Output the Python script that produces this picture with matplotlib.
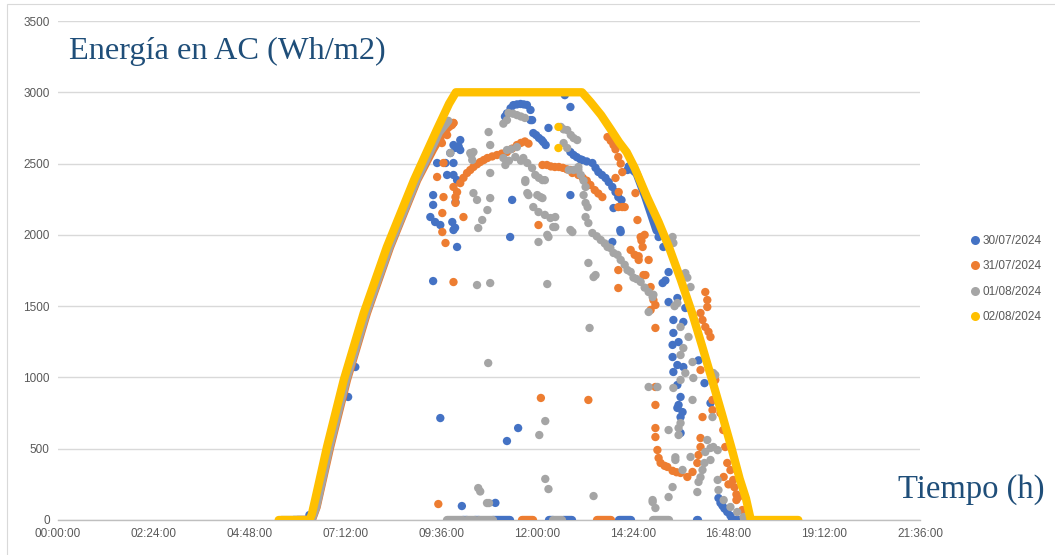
import matplotlib
matplotlib.use("Agg")
import matplotlib.pyplot as plt
from matplotlib.lines import Line2D
from matplotlib.patches import Rectangle

# ---------------- data (time in hours, energy in Wh/m2) ----------------
labels = ["30/07/2024", "31/07/2024", "01/08/2024", "02/08/2024"]
colors = ["#4472C4", "#ED7D31", "#A5A5A5", "#FFC000"]
x_tick_hours = [0, 2.4, 4.8, 7.2, 9.6, 12.0, 14.4, 16.8, 19.2, 21.6]
x_tick_labels = ["00:00:00", "02:24:00", "04:48:00", "07:12:00", "09:36:00",
                 "12:00:00", "14:24:00", "16:48:00", "19:12:00", "21:36:00"]
y_ticks = [0, 500, 1000, 1500, 2000, 2500, 3000, 3500]

# dense (continuous-looking) stretches of each day
blue_band_t = [5.90, 6.33, 6.45, 6.78, 7.20, 7.70, 8.28, 8.96, 9.35, 9.55]
blue_band_v = [0, 0, 91, 512, 982, 1451, 1914, 2384, 2600, 2700]
blue_band2_t = [14.30, 14.50, 14.72, 15.00]
blue_band2_v = [2480, 2430, 2265, 2030]

orange_band_t = [6.00, 6.36, 6.48, 6.82, 7.24, 7.74, 8.32, 9.00, 9.40, 9.65, 9.91]
orange_band_v = [0, 0, 91, 512, 982, 1451, 1914, 2384, 2600, 2720, 2785]

gray_band_t = [5.60, 6.35, 6.47, 6.80, 7.22, 7.72, 8.30, 8.98, 9.30, 9.55, 9.78]
gray_band_v = [0, 0, 91, 512, 982, 1451, 1914, 2384, 2570, 2720, 2800]

yellow_band_t = [5.53, 6.30, 6.36, 6.45, 6.74, 7.16, 7.66, 8.24, 8.92, 9.49, 9.80,
                 9.97, 13.13, 13.35, 13.61, 13.85, 14.06, 14.25, 14.45, 14.76,
                 15.05, 15.31, 15.60, 15.89, 16.14, 16.39, 16.63, 16.87, 17.08,
                 17.24, 17.36, 18.55]
yellow_band_v = [0, 0, 40, 150, 512, 982, 1451, 1914, 2384, 2735, 2920,
                 3000, 3000, 2930, 2840, 2740, 2650, 2580, 2470, 2265,
                 2090, 1914, 1690, 1451, 1220, 982, 750, 512, 290,
                 150, 0, 0]

# stretches at zero (start hour, end hour)
blue_zero = [(10.15, 10.25), (10.45, 10.55), (10.90, 11.33), (12.30, 12.40),
             (12.65, 12.89), (14.05, 14.35), (16.02, 16.03), (16.90, 17.40)]
orange_zero = [(11.62, 11.90), (13.50, 13.85), (17.20, 17.40)]
gray_zero = [(9.75, 10.15), (10.25, 10.45), (10.55, 10.90), (12.40, 12.62),
             (14.92, 15.30), (17.20, 17.40)]

# scattered readings
blue_t = [6.30, 7.27, 7.45,
          9.83, 9.91, 9.96, 10.04, 10.08, 10.08, 9.50, 9.71, 9.91, 9.75, 9.91,
          10.00, 9.40, 9.40, 9.96, 9.33, 9.45, 9.58, 9.88, 9.91, 9.95, 10.00,
          9.40, 9.58, 10.12, 10.96,
          11.38, 11.33, 11.25, 11.53,
          11.20, 11.25, 11.34, 11.41, 11.50, 11.59, 11.67, 11.75, 11.84, 11.88, 11.84,
          11.91, 11.98, 12.05, 12.12, 12.16, 12.22, 12.29, 12.84, 12.70,
          12.84, 12.92, 13.00, 13.09, 13.14, 13.25, 13.39, 13.47, 13.54, 13.63,
          13.72, 13.80, 13.89, 13.97, 14.04, 14.12,
          12.84, 13.92, 14.09, 13.89, 14.27, 14.10,
          15.05, 15.17, 15.30, 15.15, 15.22, 15.30, 15.52, 15.72, 15.42, 15.67,
          15.42, 15.40, 15.55, 15.40, 15.52, 15.67, 15.42, 15.52, 15.60, 15.52,
          15.65, 15.60, 15.60, 15.55,
          16.05, 16.20, 16.35,
          16.55, 16.60, 16.65, 16.70, 16.77, 16.85]
blue_v = [35, 863, 1073,
          2574, 2630, 2610, 2619, 2665, 2595, 2504, 2504, 2504, 2420, 2420,
          2384, 2279, 2210, 2230, 2125, 2090, 2069, 2090, 2034, 2050, 1915,
          1676, 715, 98, 120,
          2245, 1985, 554, 645,
          2830, 2852, 2888, 2910, 2915, 2918, 2915, 2911, 2876, 2805, 2805,
          2714, 2700, 2680, 2665, 2651, 2630, 2750, 2897, 2980,
          2581, 2560, 2545, 2530, 2525, 2515, 2504, 2470, 2441, 2420,
          2399, 2370, 2336, 2300, 2265, 2244,
          2279, 2188, 2034, 1950, 2455, 2020,
          1985, 1915, 1739, 1662, 1680, 1529, 1557, 1487, 1403, 1389,
          1312, 1228, 1248, 1143, 1087, 1073, 1038, 947, 863, 786,
          757, 610, 722, 807,
          1120, 960, 820,
          154, 120, 100, 80, 56, 30]

orange_t = [9.91, 9.87, 9.75, 9.62, 9.58, 9.66, 9.50, 9.66, 9.63, 9.63, 9.71,
            10.16, 9.91, 9.53,
            9.91, 9.96, 9.96, 10.00, 10.08, 10.16, 10.25, 10.33, 10.41, 10.50,
            10.58, 10.67, 10.76, 10.88, 11.00, 11.12, 11.25, 11.38, 11.50,
            11.60, 11.70, 11.79,
            12.14, 12.25, 12.35, 12.45, 12.55, 12.65, 12.75, 12.84, 12.89,
            13.04, 13.15, 13.25, 13.34, 13.45, 13.54, 13.64,
            12.04, 12.10, 13.29,
            13.77, 13.85, 13.92, 13.97, 14.04, 14.10, 14.14, 13.97, 14.05, 14.14,
            14.20, 14.04,
            14.47, 14.52, 14.60, 14.65, 14.55, 14.80, 14.04, 14.04, 14.72, 14.92,
            14.97, 14.85, 14.97, 14.35, 14.45, 14.55, 14.67, 14.85, 14.62, 14.70,
            14.97, 14.97, 14.97, 14.97, 15.02, 15.05, 15.10, 15.20, 15.27, 15.40,
            15.50, 15.60, 15.77, 15.90, 16.02, 16.05, 16.10, 16.10, 16.15, 16.40,
            16.40, 16.47,
            16.22, 16.27, 16.27, 16.10, 16.15, 16.22, 16.30, 16.35, 16.10,
            16.60, 16.67, 16.72, 16.77, 16.85, 16.92, 16.95, 17.00, 17.05, 17.15,
            16.68, 16.80, 17.00]
orange_v = [2785, 2770, 2700, 2644, 2665, 2504, 2406, 2265, 2153, 2020, 1943,
            2125, 1669, 112,
            2336, 2265, 2224, 2300, 2363, 2400, 2434, 2455, 2476, 2495,
            2511, 2525, 2539, 2550, 2560, 2570, 2581, 2605, 2630,
            2645, 2655, 2640,
            2490, 2490, 2480, 2476, 2476, 2470, 2460, 2455, 2434,
            2420, 2400, 2380, 2350, 2314, 2290, 2265,
            2069, 856, 842,
            2686, 2660, 2630, 2600, 2546, 2500, 2440, 2399, 2300, 2195,
            2195, 2195,
            2293, 2104, 1985, 1915, 1824, 1824, 1753, 1627, 1718, 1543,
            1508, 1473, 1347, 1894, 1860, 1850, 1718, 1634, 1960, 2000,
            933, 807, 645, 582, 491, 435, 400, 380, 372, 345,
            335, 330, 302, 337, 400, 456, 512, 575, 722, 771,
            842, 982,
            1599, 1543, 1494, 1452, 1403, 1354, 1320, 1284, 1052,
            750, 631, 512, 400, 350, 281, 230, 180, 161, 70,
            302, 250, 140]

gray_t = [9.83,
          10.33, 10.38, 10.79, 10.83, 10.83, 10.41, 10.50, 10.83, 10.76, 10.63,
          10.53, 10.50, 10.83, 10.41, 10.36,
          10.53, 10.58, 10.75, 10.80, 10.78,
          11.16, 11.25, 11.29, 11.40, 11.50, 11.60, 11.70,
          11.25, 11.35, 11.50, 11.21, 11.16, 11.30,
          11.46, 11.60, 11.66, 11.76, 11.88, 11.96, 12.05, 12.20, 11.71, 11.79,
          11.71, 11.76, 12.01, 12.09, 12.14, 12.14, 11.91, 12.04, 12.20, 12.34,
          12.46, 12.41, 12.46, 12.29, 12.26, 12.04, 12.26, 12.21, 12.06, 12.21,
          12.29,
          12.60, 12.67, 12.76, 12.85, 12.92, 13.01, 12.67, 12.76, 12.80, 12.92,
          13.04, 13.04, 13.10, 13.17, 13.22, 13.17, 13.22, 13.27, 13.22, 13.29,
          12.84, 12.89,
          13.39, 13.50, 13.60, 13.70, 13.77, 13.84, 13.92, 14.02, 14.10, 14.20,
          14.27, 14.35, 14.42, 14.50, 14.60, 14.70, 14.80, 14.90, 14.92, 13.29,
          13.42, 13.47, 13.32, 13.42,
          14.80, 14.80, 15.02, 14.90,
          15.40, 15.42, 15.72, 15.77, 15.85, 15.52, 15.45, 15.60, 15.80, 15.67,
          15.60, 15.90, 15.72, 15.60, 15.92, 16.47, 15.42, 15.90, 15.60, 15.55,
          15.55, 15.30,
          16.22, 16.35, 16.53, 16.35, 16.15, 16.05, 16.02, 15.85, 15.40, 15.30,
          14.90, 14.97, 16.53, 16.55, 16.68, 16.85, 17.02, 17.18, 16.40, 16.42,
          16.42, 16.27, 15.47, 15.65, 15.47, 16.10, 16.20]
gray_v = [2574,
          2574, 2525, 2721, 2630, 2434, 2293, 2245, 2258, 2174, 2104,
          2048, 1648, 1662, 2581, 2560,
          224, 200, 119, 119, 1101,
          2780, 2805, 2855, 2850, 2840, 2830, 2820,
          2595, 2600, 2616, 2490, 2539, 2520,
          2546, 2520, 2539, 2504, 2469, 2420, 2400, 2384, 2384, 2279,
          2371, 2293, 2279, 2265, 2258, 2384, 2195, 2160, 2140, 2118,
          2125, 2055, 2055, 1985, 2000, 1950, 1655, 694, 596, 288,
          217,
          2757, 2740, 2735, 2700, 2679, 2665, 2644, 2609, 2455, 2455,
          2455, 2476, 2420, 2380, 2336, 2279, 2224, 2195, 2125, 2083,
          2034, 2020,
          2013, 1990, 1964, 1940, 1915, 1908, 1873, 1860, 1824, 1790,
          1753, 1740, 1700, 1690, 1670, 1630, 1599, 1564, 1580, 1803,
          1704, 1718, 1347, 168,
          1459, 933, 933, 126,
          1985, 1943, 1732, 1700, 1634, 1522, 1500, 1354, 1284, 1206,
          1157, 1108, 1031, 982, 996, 1017, 926, 842, 680, 645,
          596, 631,
          477, 505, 490, 421, 351, 267, 196, 442, 231, 161,
          140, 84, 281, 210, 140, 91, 56, 21, 722, 1031,
          512, 561, 421, 351, 440, 300, 400]

yellow_t = [12.54, 12.54]
yellow_v = [2757, 2609]

# ---------------- figure ----------------
W, H = 1055, 555
fig = plt.figure(figsize=(W / 100, H / 100), dpi=100)
fig.patch.set_facecolor("white")
fig.add_artist(Rectangle((7 / W, -0.1), 1.2, (H - 4) / H + 0.1,
                         transform=fig.transFigure, fill=False,
                         edgecolor="#D9D9D9", linewidth=0.8))

ax = fig.add_axes([58 / W, (H - 520) / H, (920 - 58) / W, (520 - 21) / H])
ax.set_xlim(0, 21.6)
ax.set_ylim(0, 3500)

lw = 6.0   # pt, approx marker diameter
ms = 36    # scatter area

def draw(series_bands, zeros, t, v, color, z):
    for bt, bv in series_bands:
        ax.plot(bt, bv, color=color, lw=lw, solid_capstyle="round",
                solid_joinstyle="round", zorder=z)
    for a, b in zeros:
        ax.plot([a, b], [0, 0], color=color, lw=lw, solid_capstyle="round",
                zorder=z)
    ax.scatter(t, v, s=ms, color=color, edgecolors="none", zorder=z)

draw([(blue_band_t, blue_band_v), (blue_band2_t, blue_band2_v)],
     blue_zero, blue_t, blue_v, colors[0], 3)
draw([(orange_band_t, orange_band_v)], orange_zero, orange_t, orange_v, colors[1], 4)
draw([(gray_band_t, gray_band_v)], gray_zero, gray_t, gray_v, colors[2], 5)
draw([(yellow_band_t, yellow_band_v)], [], yellow_t, yellow_v, colors[3], 6)

tick_font = ["Liberation Sans Narrow", "Liberation Sans", "DejaVu Sans"]
ax.set_xticks(x_tick_hours)
ax.set_xticklabels(x_tick_labels, fontfamily=tick_font, fontsize=8.5, color="#595959")
ax.set_yticks(y_ticks)
ax.set_yticklabels([str(v) for v in y_ticks], fontfamily=tick_font, fontsize=8.5,
                   color="#595959")
ax.tick_params(length=0, pad=6)
ax.grid(axis="y", color="#D9D9D9", linewidth=1.0, zorder=0)
ax.set_axisbelow(True)
for s in ["top", "right", "left"]:
    ax.spines[s].set_visible(False)
ax.spines["bottom"].set_color("#BFBFBF")
ax.spines["bottom"].set_linewidth(1.0)
ax.spines["bottom"].set_zorder(1)

fig.text(69 / W, 1 - 51 / H, "Energía en AC (Wh/m2)", fontfamily="Liberation Serif",
         fontsize=23.3, color="#1F4E79", va="center", ha="left")
fig.text(1044 / W, 1 - 490 / H, "Tiempo (h)", fontfamily="Liberation Serif",
         fontsize=23.5, color="#1F4E79", va="center", ha="right")

handles = [Line2D([], [], linestyle="none", marker="o", markersize=6.5,
                  markerfacecolor=c, markeredgecolor="none") for c in colors]
fig.legend(handles, labels, loc="center left", bbox_to_anchor=(962 / W, 1 - 279 / H),
           frameon=False, prop={"family": tick_font, "size": 8.5},
           labelcolor="#595959", handletextpad=0.0, handlelength=1.2,
           labelspacing=1.15, borderpad=0)

fig.savefig("out.png", dpi=100, facecolor="white")
